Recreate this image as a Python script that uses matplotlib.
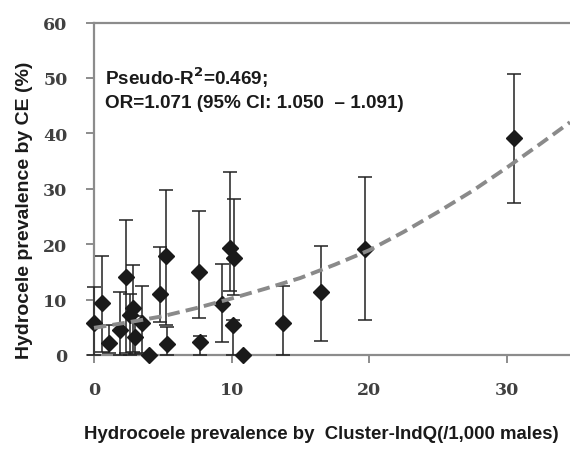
import matplotlib
matplotlib.use("Agg")
import matplotlib.pyplot as plt

# Data
x_vals = [0.0, 0.6, 1.1, 1.9, 2.3, 2.8, 2.6, 3.0, 3.5, 4.0, 4.8, 5.2, 5.3,
          7.65, 7.7, 9.3, 9.9, 10.2, 10.1, 10.85, 13.75, 16.5, 19.7, 30.5]
y_vals = [5.8, 9.3, 2.1, 4.6, 14.0, 8.5, 7.3, 3.2, 5.7, 0.0, 11.0, 17.8, 2.0,
          14.9, 2.3, 9.2, 19.3, 17.5, 5.4, 0.0, 5.7, 11.3, 19.2, 39.1]
ci_low = [0.0, 0.5, 0.3, 0.0, 0.3, 0.5, 0.0, 0.2, 0.3, 0.0, 6.0, 5.5, 0.0,
          6.6, 0.0, 2.3, 11.5, 10.8, 0.0, 0.0, 0.0, 2.5, 6.3, 27.5]
ci_high = [12.2, 17.9, 5.5, 11.4, 24.3, 16.2, 11.0, 7.0, 12.4, 0.0, 19.4, 29.8, 5.0,
           25.9, 3.5, 16.5, 33.0, 28.1, 6.3, 0.0, 12.4, 19.7, 32.2, 50.7]

# fitted curve
curve_x = [0, 2.5, 5, 7.5, 10, 12.5, 15, 17.5, 20, 22.5, 25, 27.5, 30, 32.5, 34.6]
curve_y = [4.9, 5.9, 7.0, 8.5, 10.2, 12.0, 13.9, 16.3, 18.9, 22.2, 25.8, 29.6, 33.8, 38.2, 42.0]

x_ticks = [0, 10, 20, 30]
y_ticks = [0, 10, 20, 30, 40, 50, 60]

fig = plt.figure(figsize=(5.70, 4.52), dpi=100)
ax = fig.add_axes([94/570, 96/452, 476/570, 332.5/452])

err_lo = [y - l for y, l in zip(y_vals, ci_low)]
err_hi = [h - y for y, h in zip(y_vals, ci_high)]

ax.errorbar(x_vals, y_vals, yerr=[err_lo, err_hi], fmt='none', ecolor='#222222',
            elinewidth=1.1, capsize=5, capthick=1.1, clip_on=False, zorder=3)
ax.plot(x_vals, y_vals, linestyle='none', marker='D', markersize=8,
        color='#1a1a1a', clip_on=False, zorder=4)
ax.plot(curve_x, curve_y, color='#8a8a8a', linewidth=2.8, dashes=(3.2, 1.6),
        zorder=5, clip_on=False)

ax.set_xlim(0, 34.6)
ax.set_ylim(0, 60)
ax.set_xticks(x_ticks)
ax.set_yticks(y_ticks)

for s in ['left', 'bottom', 'top']:
    ax.spines[s].set_color('#8c8c8c')
    ax.spines[s].set_linewidth(1.6)
ax.spines['right'].set_visible(False)

ax.tick_params(axis='both', colors='#8c8c8c', width=1.4, length=6, direction='out')
ax.tick_params(axis='x', pad=13)
ax.tick_params(axis='y', pad=13)
for lab in ax.get_xticklabels() + ax.get_yticklabels():
    lab.set_fontfamily('DejaVu Serif')
    lab.set_fontweight('bold')
    lab.set_fontsize(12.5)
    lab.set_color('#404040')

fig.text(25/570, 1 - 210/452, 'Hydrocele prevalence by CE (%)', rotation=90,
         ha='center', va='center', fontfamily='Liberation Sans', fontweight='bold',
         fontsize=14, color='#1a1a1a')
fig.text(321/570, 1 - 435/452, 'Hydrocoele prevalence by  Cluster-IndQ(/1,000 males)',
         ha='center', va='center', fontfamily='Liberation Sans', fontweight='bold',
         fontsize=13.4, color='#1a1a1a')

ax.text(0.023, 0.836, 'Pseudo-R$^\\mathbf{2}$=0.469;', transform=ax.transAxes,
        ha='left', va='center', fontfamily='Liberation Sans', fontweight='bold',
        fontsize=13.6, color='#1a1a1a')
ax.text(0.023, 0.758, 'OR=1.071 (95% CI: 1.050  \u2013 1.091)', transform=ax.transAxes,
        ha='left', va='center', fontfamily='Liberation Sans', fontweight='bold',
        fontsize=13.6, color='#1a1a1a')

fig.savefig('out.png', dpi=100)
